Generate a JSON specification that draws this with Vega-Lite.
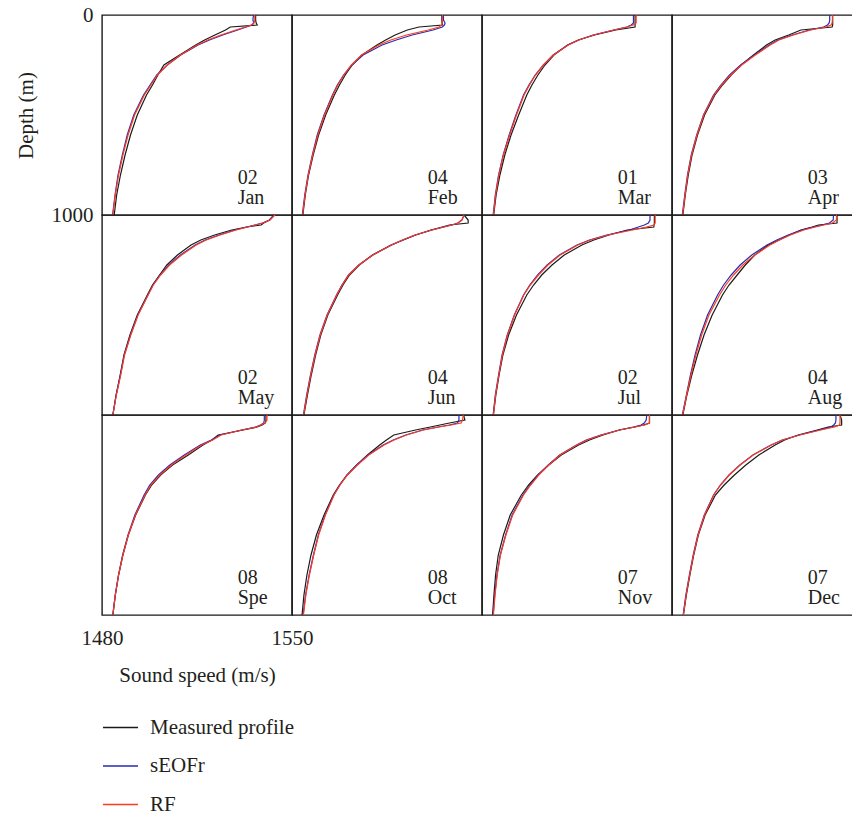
{
  "$schema": "https://vega.github.io/schema/vega-lite/v6.json",
  "background": "white",
  "padding": {"left": 14, "top": 3, "right": 0, "bottom": 0},
  "config": {
    "view": {"stroke": "#1a1a1a", "strokeWidth": 1.4},
    "font": "Liberation Serif"
  },
  "datasets": {
    "labels": [
      {"m": "Jan", "t": "02\nJan"}, {"m": "Feb", "t": "04\nFeb"}, {"m": "Mar", "t": "01\nMar"}, {"m": "Apr", "t": "03\nApr"},
      {"m": "May", "t": "02\nMay"}, {"m": "Jun", "t": "04\nJun"}, {"m": "Jul", "t": "02\nJul"}, {"m": "Aug", "t": "04\nAug"},
      {"m": "Spe", "t": "08\nSpe"}, {"m": "Oct", "t": "08\nOct"}, {"m": "Nov", "t": "07\nNov"}, {"m": "Dec", "t": "07\nDec"}
    ],
    "profiles": [
      {"m":"Jan","d":0,"Measured profile":1536.6,"sEOFr":1535.8,"RF":1536.3},
      {"m":"Jan","d":25,"Measured profile":1536.6,"sEOFr":1535.6,"RF":1536.3},
      {"m":"Jan","d":40,"Measured profile":1536.8,"sEOFr":1535.9,"RF":1536.0},
      {"m":"Jan","d":50,"Measured profile":1537.2,"sEOFr":1535.2,"RF":1535.0},
      {"m":"Jan","d":60,"Measured profile":1527.3,"sEOFr":1533.2,"RF":1532.8},
      {"m":"Jan","d":75,"Measured profile":1525.5,"sEOFr":1530.0,"RF":1529.3},
      {"m":"Jan","d":100,"Measured profile":1521.6,"sEOFr":1524.5,"RF":1523.8},
      {"m":"Jan","d":125,"Measured profile":1517.8,"sEOFr":1519.6,"RF":1519.0},
      {"m":"Jan","d":150,"Measured profile":1514.5,"sEOFr":1515.4,"RF":1515.0},
      {"m":"Jan","d":200,"Measured profile":1508.6,"sEOFr":1509.0,"RF":1508.9},
      {"m":"Jan","d":250,"Measured profile":1502.8,"sEOFr":1504.0,"RF":1504.1},
      {"m":"Jan","d":300,"Measured profile":1500.6,"sEOFr":1500.2,"RF":1500.4},
      {"m":"Jan","d":350,"Measured profile":1498.6,"sEOFr":1497.7,"RF":1498.0},
      {"m":"Jan","d":400,"Measured profile":1496.4,"sEOFr":1495.3,"RF":1495.6},
      {"m":"Jan","d":500,"Measured profile":1493.0,"sEOFr":1491.7,"RF":1492.0},
      {"m":"Jan","d":600,"Measured profile":1490.5,"sEOFr":1489.3,"RF":1489.6},
      {"m":"Jan","d":700,"Measured profile":1488.5,"sEOFr":1487.5,"RF":1487.7},
      {"m":"Jan","d":800,"Measured profile":1486.8,"sEOFr":1485.9,"RF":1486.1},
      {"m":"Jan","d":900,"Measured profile":1485.4,"sEOFr":1484.8,"RF":1484.9},
      {"m":"Jan","d":1000,"Measured profile":1484.5,"sEOFr":1483.9,"RF":1484.0},

      {"m":"Feb","d":0,"Measured profile":1535.2,"sEOFr":1535.8,"RF":1535.4},
      {"m":"Feb","d":25,"Measured profile":1535.2,"sEOFr":1535.8,"RF":1535.4},
      {"m":"Feb","d":40,"Measured profile":1535.3,"sEOFr":1536.4,"RF":1535.3},
      {"m":"Feb","d":50,"Measured profile":1535.5,"sEOFr":1536.2,"RF":1535.2},
      {"m":"Feb","d":60,"Measured profile":1526.8,"sEOFr":1535.4,"RF":1534.2},
      {"m":"Feb","d":75,"Measured profile":1522.5,"sEOFr":1532.0,"RF":1530.2},
      {"m":"Feb","d":100,"Measured profile":1518.0,"sEOFr":1524.3,"RF":1522.2},
      {"m":"Feb","d":125,"Measured profile":1514.5,"sEOFr":1518.4,"RF":1516.4},
      {"m":"Feb","d":150,"Measured profile":1511.3,"sEOFr":1513.2,"RF":1512.0},
      {"m":"Feb","d":200,"Measured profile":1505.8,"sEOFr":1506.2,"RF":1505.6},
      {"m":"Feb","d":250,"Measured profile":1502.2,"sEOFr":1502.0,"RF":1501.9},
      {"m":"Feb","d":300,"Measured profile":1499.6,"sEOFr":1499.0,"RF":1499.1},
      {"m":"Feb","d":350,"Measured profile":1497.5,"sEOFr":1496.7,"RF":1496.9},
      {"m":"Feb","d":400,"Measured profile":1495.6,"sEOFr":1494.9,"RF":1495.1},
      {"m":"Feb","d":500,"Measured profile":1492.4,"sEOFr":1491.8,"RF":1492.0},
      {"m":"Feb","d":600,"Measured profile":1489.8,"sEOFr":1489.3,"RF":1489.5},
      {"m":"Feb","d":700,"Measured profile":1487.8,"sEOFr":1487.5,"RF":1487.6},
      {"m":"Feb","d":800,"Measured profile":1486.1,"sEOFr":1485.9,"RF":1486.0},
      {"m":"Feb","d":900,"Measured profile":1484.9,"sEOFr":1484.7,"RF":1484.8},
      {"m":"Feb","d":1000,"Measured profile":1484.0,"sEOFr":1483.8,"RF":1483.9},

      {"m":"Mar","d":0,"Measured profile":1536.4,"sEOFr":1535.8,"RF":1536.8},
      {"m":"Mar","d":25,"Measured profile":1536.4,"sEOFr":1535.8,"RF":1536.8},
      {"m":"Mar","d":40,"Measured profile":1536.4,"sEOFr":1535.8,"RF":1536.8},
      {"m":"Mar","d":50,"Measured profile":1536.4,"sEOFr":1535.0,"RF":1535.7},
      {"m":"Mar","d":60,"Measured profile":1536.4,"sEOFr":1533.3,"RF":1533.5},
      {"m":"Mar","d":75,"Measured profile":1529.3,"sEOFr":1528.5,"RF":1528.6},
      {"m":"Mar","d":100,"Measured profile":1521.5,"sEOFr":1521.0,"RF":1521.1},
      {"m":"Mar","d":125,"Measured profile":1515.5,"sEOFr":1515.6,"RF":1515.7},
      {"m":"Mar","d":150,"Measured profile":1511.5,"sEOFr":1511.7,"RF":1511.8},
      {"m":"Mar","d":200,"Measured profile":1506.5,"sEOFr":1506.2,"RF":1506.3},
      {"m":"Mar","d":250,"Measured profile":1503.2,"sEOFr":1502.6,"RF":1502.7},
      {"m":"Mar","d":300,"Measured profile":1500.6,"sEOFr":1499.6,"RF":1499.7},
      {"m":"Mar","d":350,"Measured profile":1498.4,"sEOFr":1497.3,"RF":1497.5},
      {"m":"Mar","d":400,"Measured profile":1496.5,"sEOFr":1495.3,"RF":1495.5},
      {"m":"Mar","d":500,"Measured profile":1493.5,"sEOFr":1492.5,"RF":1492.7},
      {"m":"Mar","d":600,"Measured profile":1490.7,"sEOFr":1490.0,"RF":1490.2},
      {"m":"Mar","d":700,"Measured profile":1488.4,"sEOFr":1487.8,"RF":1487.9},
      {"m":"Mar","d":800,"Measured profile":1486.6,"sEOFr":1486.1,"RF":1486.2},
      {"m":"Mar","d":900,"Measured profile":1485.2,"sEOFr":1484.9,"RF":1485.0},
      {"m":"Mar","d":1000,"Measured profile":1484.3,"sEOFr":1484.1,"RF":1484.2},

      {"m":"Apr","d":0,"Measured profile":1539.2,"sEOFr":1538.1,"RF":1539.1},
      {"m":"Apr","d":25,"Measured profile":1539.2,"sEOFr":1538.1,"RF":1539.1},
      {"m":"Apr","d":40,"Measured profile":1539.2,"sEOFr":1537.9,"RF":1539.0},
      {"m":"Apr","d":50,"Measured profile":1539.2,"sEOFr":1537.3,"RF":1538.6},
      {"m":"Apr","d":60,"Measured profile":1539.0,"sEOFr":1535.8,"RF":1536.8},
      {"m":"Apr","d":75,"Measured profile":1527.5,"sEOFr":1530.6,"RF":1531.1},
      {"m":"Apr","d":100,"Measured profile":1523.0,"sEOFr":1524.3,"RF":1524.7},
      {"m":"Apr","d":125,"Measured profile":1518.0,"sEOFr":1519.0,"RF":1519.4},
      {"m":"Apr","d":150,"Measured profile":1514.8,"sEOFr":1515.8,"RF":1516.2},
      {"m":"Apr","d":200,"Measured profile":1510.0,"sEOFr":1510.3,"RF":1510.7},
      {"m":"Apr","d":250,"Measured profile":1505.5,"sEOFr":1505.3,"RF":1505.7},
      {"m":"Apr","d":300,"Measured profile":1501.8,"sEOFr":1501.2,"RF":1501.6},
      {"m":"Apr","d":350,"Measured profile":1498.6,"sEOFr":1498.0,"RF":1498.3},
      {"m":"Apr","d":400,"Measured profile":1495.8,"sEOFr":1495.3,"RF":1495.5},
      {"m":"Apr","d":500,"Measured profile":1492.0,"sEOFr":1491.6,"RF":1491.7},
      {"m":"Apr","d":600,"Measured profile":1489.4,"sEOFr":1489.1,"RF":1489.2},
      {"m":"Apr","d":700,"Measured profile":1487.4,"sEOFr":1487.1,"RF":1487.2},
      {"m":"Apr","d":800,"Measured profile":1486.0,"sEOFr":1485.7,"RF":1485.8},
      {"m":"Apr","d":900,"Measured profile":1484.9,"sEOFr":1484.7,"RF":1484.8},
      {"m":"Apr","d":1000,"Measured profile":1484.0,"sEOFr":1483.8,"RF":1483.9},

      {"m":"May","d":0,"Measured profile":1543.3,"sEOFr":1543.5,"RF":1543.7},
      {"m":"May","d":25,"Measured profile":1541.7,"sEOFr":1541.8,"RF":1541.9},
      {"m":"May","d":40,"Measured profile":1539.6,"sEOFr":1539.1,"RF":1539.3},
      {"m":"May","d":50,"Measured profile":1538.6,"sEOFr":1536.3,"RF":1536.5},
      {"m":"May","d":60,"Measured profile":1533.3,"sEOFr":1533.4,"RF":1533.7},
      {"m":"May","d":75,"Measured profile":1527.8,"sEOFr":1529.0,"RF":1529.4},
      {"m":"May","d":100,"Measured profile":1521.5,"sEOFr":1523.1,"RF":1523.5},
      {"m":"May","d":125,"Measured profile":1516.4,"sEOFr":1518.0,"RF":1518.4},
      {"m":"May","d":150,"Measured profile":1512.8,"sEOFr":1514.3,"RF":1514.7},
      {"m":"May","d":200,"Measured profile":1507.8,"sEOFr":1508.9,"RF":1509.3},
      {"m":"May","d":250,"Measured profile":1503.9,"sEOFr":1504.6,"RF":1504.9},
      {"m":"May","d":300,"Measured profile":1501.2,"sEOFr":1501.4,"RF":1501.6},
      {"m":"May","d":350,"Measured profile":1498.6,"sEOFr":1498.8,"RF":1498.9},
      {"m":"May","d":400,"Measured profile":1496.7,"sEOFr":1496.9,"RF":1497.0},
      {"m":"May","d":500,"Measured profile":1493.0,"sEOFr":1493.2,"RF":1493.3},
      {"m":"May","d":600,"Measured profile":1490.3,"sEOFr":1490.5,"RF":1490.6},
      {"m":"May","d":700,"Measured profile":1488.1,"sEOFr":1488.2,"RF":1488.3},
      {"m":"May","d":800,"Measured profile":1486.7,"sEOFr":1486.8,"RF":1486.9},
      {"m":"May","d":900,"Measured profile":1485.2,"sEOFr":1485.2,"RF":1485.3},
      {"m":"May","d":1000,"Measured profile":1484.0,"sEOFr":1484.0,"RF":1484.0},

      {"m":"Jun","d":0,"Measured profile":1543.4,"sEOFr":1543.4,"RF":1543.4},
      {"m":"Jun","d":25,"Measured profile":1544.9,"sEOFr":1542.6,"RF":1542.6},
      {"m":"Jun","d":40,"Measured profile":1544.9,"sEOFr":1541.1,"RF":1541.1},
      {"m":"Jun","d":50,"Measured profile":1538.0,"sEOFr":1538.9,"RF":1538.9},
      {"m":"Jun","d":60,"Measured profile":1535.3,"sEOFr":1536.0,"RF":1535.9},
      {"m":"Jun","d":75,"Measured profile":1531.2,"sEOFr":1531.6,"RF":1531.5},
      {"m":"Jun","d":100,"Measured profile":1525.6,"sEOFr":1525.4,"RF":1525.3},
      {"m":"Jun","d":125,"Measured profile":1521.0,"sEOFr":1520.8,"RF":1520.7},
      {"m":"Jun","d":150,"Measured profile":1516.5,"sEOFr":1516.7,"RF":1516.6},
      {"m":"Jun","d":200,"Measured profile":1509.6,"sEOFr":1509.8,"RF":1509.8},
      {"m":"Jun","d":250,"Measured profile":1504.8,"sEOFr":1504.6,"RF":1504.6},
      {"m":"Jun","d":300,"Measured profile":1501.2,"sEOFr":1500.8,"RF":1500.9},
      {"m":"Jun","d":350,"Measured profile":1498.8,"sEOFr":1498.4,"RF":1498.5},
      {"m":"Jun","d":400,"Measured profile":1496.8,"sEOFr":1496.4,"RF":1496.5},
      {"m":"Jun","d":500,"Measured profile":1493.2,"sEOFr":1492.9,"RF":1493.0},
      {"m":"Jun","d":600,"Measured profile":1490.6,"sEOFr":1490.3,"RF":1490.4},
      {"m":"Jun","d":700,"Measured profile":1488.7,"sEOFr":1488.4,"RF":1488.5},
      {"m":"Jun","d":800,"Measured profile":1487.1,"sEOFr":1486.8,"RF":1486.9},
      {"m":"Jun","d":900,"Measured profile":1485.7,"sEOFr":1485.4,"RF":1485.5},
      {"m":"Jun","d":1000,"Measured profile":1484.4,"sEOFr":1484.2,"RF":1484.3},

      {"m":"Jul","d":0,"Measured profile":1543.5,"sEOFr":1541.9,"RF":1543.8},
      {"m":"Jul","d":25,"Measured profile":1543.5,"sEOFr":1541.9,"RF":1543.8},
      {"m":"Jul","d":40,"Measured profile":1543.5,"sEOFr":1541.3,"RF":1543.8},
      {"m":"Jul","d":50,"Measured profile":1543.4,"sEOFr":1539.8,"RF":1543.3},
      {"m":"Jul","d":60,"Measured profile":1543.3,"sEOFr":1537.6,"RF":1540.6},
      {"m":"Jul","d":75,"Measured profile":1533.5,"sEOFr":1534.3,"RF":1535.5},
      {"m":"Jul","d":100,"Measured profile":1526.8,"sEOFr":1526.0,"RF":1526.4},
      {"m":"Jul","d":125,"Measured profile":1521.2,"sEOFr":1519.6,"RF":1519.9},
      {"m":"Jul","d":150,"Measured profile":1516.8,"sEOFr":1515.0,"RF":1515.3},
      {"m":"Jul","d":200,"Measured profile":1510.3,"sEOFr":1508.5,"RF":1508.8},
      {"m":"Jul","d":250,"Measured profile":1505.8,"sEOFr":1504.0,"RF":1504.3},
      {"m":"Jul","d":300,"Measured profile":1502.0,"sEOFr":1500.5,"RF":1500.8},
      {"m":"Jul","d":350,"Measured profile":1499.0,"sEOFr":1497.6,"RF":1497.8},
      {"m":"Jul","d":400,"Measured profile":1496.5,"sEOFr":1495.3,"RF":1495.4},
      {"m":"Jul","d":500,"Measured profile":1492.7,"sEOFr":1491.9,"RF":1492.0},
      {"m":"Jul","d":600,"Measured profile":1489.8,"sEOFr":1489.3,"RF":1489.4},
      {"m":"Jul","d":700,"Measured profile":1487.7,"sEOFr":1487.4,"RF":1487.5},
      {"m":"Jul","d":800,"Measured profile":1486.3,"sEOFr":1486.1,"RF":1486.2},
      {"m":"Jul","d":900,"Measured profile":1485.1,"sEOFr":1484.9,"RF":1485.0},
      {"m":"Jul","d":1000,"Measured profile":1484.2,"sEOFr":1484.1,"RF":1484.2},

      {"m":"Aug","d":0,"Measured profile":1540.8,"sEOFr":1539.5,"RF":1540.6},
      {"m":"Aug","d":25,"Measured profile":1540.8,"sEOFr":1539.4,"RF":1540.6},
      {"m":"Aug","d":40,"Measured profile":1540.8,"sEOFr":1538.0,"RF":1539.1},
      {"m":"Aug","d":50,"Measured profile":1534.0,"sEOFr":1535.4,"RF":1536.0},
      {"m":"Aug","d":60,"Measured profile":1531.6,"sEOFr":1532.2,"RF":1532.8},
      {"m":"Aug","d":75,"Measured profile":1527.5,"sEOFr":1527.8,"RF":1528.6},
      {"m":"Aug","d":100,"Measured profile":1523.2,"sEOFr":1522.8,"RF":1523.6},
      {"m":"Aug","d":125,"Measured profile":1519.5,"sEOFr":1518.6,"RF":1519.6},
      {"m":"Aug","d":150,"Measured profile":1515.5,"sEOFr":1515.0,"RF":1516.1},
      {"m":"Aug","d":200,"Measured profile":1510.5,"sEOFr":1509.4,"RF":1510.5},
      {"m":"Aug","d":250,"Measured profile":1507.0,"sEOFr":1505.1,"RF":1506.1},
      {"m":"Aug","d":300,"Measured profile":1504.0,"sEOFr":1501.8,"RF":1502.7},
      {"m":"Aug","d":350,"Measured profile":1501.0,"sEOFr":1499.0,"RF":1499.8},
      {"m":"Aug","d":400,"Measured profile":1498.6,"sEOFr":1496.8,"RF":1497.5},
      {"m":"Aug","d":500,"Measured profile":1494.8,"sEOFr":1493.1,"RF":1493.6},
      {"m":"Aug","d":600,"Measured profile":1491.8,"sEOFr":1490.5,"RF":1490.9},
      {"m":"Aug","d":700,"Measured profile":1489.4,"sEOFr":1488.5,"RF":1488.8},
      {"m":"Aug","d":800,"Measured profile":1487.3,"sEOFr":1486.8,"RF":1487.0},
      {"m":"Aug","d":900,"Measured profile":1485.5,"sEOFr":1485.3,"RF":1485.4},
      {"m":"Aug","d":1000,"Measured profile":1484.0,"sEOFr":1483.8,"RF":1483.9},

      {"m":"Spe","d":0,"Measured profile":1540.4,"sEOFr":1539.8,"RF":1540.8},
      {"m":"Spe","d":25,"Measured profile":1540.4,"sEOFr":1539.8,"RF":1540.8},
      {"m":"Spe","d":40,"Measured profile":1540.2,"sEOFr":1539.6,"RF":1540.0},
      {"m":"Spe","d":50,"Measured profile":1539.0,"sEOFr":1538.4,"RF":1538.5},
      {"m":"Spe","d":60,"Measured profile":1537.2,"sEOFr":1536.6,"RF":1536.8},
      {"m":"Spe","d":75,"Measured profile":1532.0,"sEOFr":1531.4,"RF":1531.6},
      {"m":"Spe","d":100,"Measured profile":1522.8,"sEOFr":1523.5,"RF":1523.9},
      {"m":"Spe","d":125,"Measured profile":1520.5,"sEOFr":1520.3,"RF":1520.8},
      {"m":"Spe","d":150,"Measured profile":1517.2,"sEOFr":1516.2,"RF":1516.7},
      {"m":"Spe","d":200,"Measured profile":1511.8,"sEOFr":1510.3,"RF":1510.9},
      {"m":"Spe","d":250,"Measured profile":1506.0,"sEOFr":1505.0,"RF":1505.6},
      {"m":"Spe","d":300,"Measured profile":1501.6,"sEOFr":1500.8,"RF":1501.3},
      {"m":"Spe","d":350,"Measured profile":1498.3,"sEOFr":1497.6,"RF":1498.0},
      {"m":"Spe","d":400,"Measured profile":1496.0,"sEOFr":1495.5,"RF":1495.9},
      {"m":"Spe","d":500,"Measured profile":1492.4,"sEOFr":1492.1,"RF":1492.3},
      {"m":"Spe","d":600,"Measured profile":1489.7,"sEOFr":1489.6,"RF":1489.7},
      {"m":"Spe","d":700,"Measured profile":1487.7,"sEOFr":1487.6,"RF":1487.7},
      {"m":"Spe","d":800,"Measured profile":1486.1,"sEOFr":1486.1,"RF":1486.1},
      {"m":"Spe","d":900,"Measured profile":1484.9,"sEOFr":1484.9,"RF":1484.9},
      {"m":"Spe","d":1000,"Measured profile":1484.0,"sEOFr":1484.0,"RF":1484.0},

      {"m":"Oct","d":0,"Measured profile":1543.2,"sEOFr":1541.5,"RF":1543.1},
      {"m":"Oct","d":25,"Measured profile":1543.7,"sEOFr":1541.5,"RF":1542.8},
      {"m":"Oct","d":40,"Measured profile":1538.0,"sEOFr":1541.0,"RF":1542.3},
      {"m":"Oct","d":50,"Measured profile":1534.5,"sEOFr":1538.0,"RF":1538.6},
      {"m":"Oct","d":60,"Measured profile":1531.0,"sEOFr":1533.8,"RF":1534.1},
      {"m":"Oct","d":75,"Measured profile":1525.5,"sEOFr":1528.1,"RF":1528.4},
      {"m":"Oct","d":100,"Measured profile":1517.5,"sEOFr":1521.9,"RF":1522.2},
      {"m":"Oct","d":125,"Measured profile":1514.8,"sEOFr":1517.3,"RF":1517.6},
      {"m":"Oct","d":150,"Measured profile":1512.3,"sEOFr":1513.6,"RF":1513.9},
      {"m":"Oct","d":200,"Measured profile":1507.8,"sEOFr":1508.0,"RF":1508.3},
      {"m":"Oct","d":250,"Measured profile":1503.9,"sEOFr":1503.8,"RF":1504.1},
      {"m":"Oct","d":300,"Measured profile":1500.3,"sEOFr":1500.3,"RF":1500.4},
      {"m":"Oct","d":350,"Measured profile":1497.5,"sEOFr":1497.6,"RF":1497.7},
      {"m":"Oct","d":400,"Measured profile":1495.2,"sEOFr":1495.4,"RF":1495.5},
      {"m":"Oct","d":500,"Measured profile":1491.8,"sEOFr":1492.2,"RF":1492.3},
      {"m":"Oct","d":600,"Measured profile":1489.0,"sEOFr":1489.7,"RF":1489.8},
      {"m":"Oct","d":700,"Measured profile":1487.0,"sEOFr":1487.9,"RF":1488.0},
      {"m":"Oct","d":800,"Measured profile":1485.5,"sEOFr":1486.3,"RF":1486.4},
      {"m":"Oct","d":900,"Measured profile":1484.4,"sEOFr":1485.0,"RF":1485.1},
      {"m":"Oct","d":1000,"Measured profile":1483.7,"sEOFr":1484.1,"RF":1484.2},

      {"m":"Nov","d":0,"Measured profile":1541.7,"sEOFr":1540.7,"RF":1541.7},
      {"m":"Nov","d":25,"Measured profile":1541.7,"sEOFr":1540.5,"RF":1541.7},
      {"m":"Nov","d":40,"Measured profile":1541.7,"sEOFr":1539.8,"RF":1541.7},
      {"m":"Nov","d":50,"Measured profile":1539.5,"sEOFr":1538.6,"RF":1540.0},
      {"m":"Nov","d":60,"Measured profile":1536.3,"sEOFr":1535.8,"RF":1536.3},
      {"m":"Nov","d":75,"Measured profile":1530.6,"sEOFr":1530.6,"RF":1530.8},
      {"m":"Nov","d":100,"Measured profile":1524.6,"sEOFr":1523.8,"RF":1524.0},
      {"m":"Nov","d":125,"Measured profile":1519.6,"sEOFr":1518.4,"RF":1518.6},
      {"m":"Nov","d":150,"Measured profile":1515.6,"sEOFr":1514.8,"RF":1515.0},
      {"m":"Nov","d":200,"Measured profile":1509.2,"sEOFr":1508.6,"RF":1508.8},
      {"m":"Nov","d":250,"Measured profile":1504.6,"sEOFr":1504.4,"RF":1504.6},
      {"m":"Nov","d":300,"Measured profile":1500.5,"sEOFr":1500.7,"RF":1500.9},
      {"m":"Nov","d":350,"Measured profile":1497.2,"sEOFr":1497.7,"RF":1497.9},
      {"m":"Nov","d":400,"Measured profile":1494.5,"sEOFr":1495.1,"RF":1495.3},
      {"m":"Nov","d":500,"Measured profile":1490.4,"sEOFr":1491.1,"RF":1491.3},
      {"m":"Nov","d":600,"Measured profile":1487.9,"sEOFr":1488.7,"RF":1488.8},
      {"m":"Nov","d":700,"Measured profile":1486.0,"sEOFr":1486.7,"RF":1486.8},
      {"m":"Nov","d":800,"Measured profile":1485.0,"sEOFr":1485.5,"RF":1485.6},
      {"m":"Nov","d":900,"Measured profile":1484.4,"sEOFr":1484.7,"RF":1484.8},
      {"m":"Nov","d":1000,"Measured profile":1483.9,"sEOFr":1484.1,"RF":1484.2},

      {"m":"Dec","d":0,"Measured profile":1541.9,"sEOFr":1540.4,"RF":1541.9},
      {"m":"Dec","d":25,"Measured profile":1542.5,"sEOFr":1540.4,"RF":1541.9},
      {"m":"Dec","d":40,"Measured profile":1542.5,"sEOFr":1540.2,"RF":1541.9},
      {"m":"Dec","d":50,"Measured profile":1542.5,"sEOFr":1539.6,"RF":1541.7},
      {"m":"Dec","d":60,"Measured profile":1537.5,"sEOFr":1538.5,"RF":1539.9},
      {"m":"Dec","d":75,"Measured profile":1533.5,"sEOFr":1534.3,"RF":1534.8},
      {"m":"Dec","d":100,"Measured profile":1526.5,"sEOFr":1526.9,"RF":1527.1},
      {"m":"Dec","d":125,"Measured profile":1521.5,"sEOFr":1520.6,"RF":1520.7},
      {"m":"Dec","d":150,"Measured profile":1518.0,"sEOFr":1516.5,"RF":1516.6},
      {"m":"Dec","d":200,"Measured profile":1512.0,"sEOFr":1509.8,"RF":1509.9},
      {"m":"Dec","d":250,"Measured profile":1507.2,"sEOFr":1505.0,"RF":1505.1},
      {"m":"Dec","d":300,"Measured profile":1503.0,"sEOFr":1501.0,"RF":1501.1},
      {"m":"Dec","d":350,"Measured profile":1499.2,"sEOFr":1497.8,"RF":1497.9},
      {"m":"Dec","d":400,"Measured profile":1496.0,"sEOFr":1495.3,"RF":1495.4},
      {"m":"Dec","d":500,"Measured profile":1492.2,"sEOFr":1491.9,"RF":1492.0},
      {"m":"Dec","d":600,"Measured profile":1489.7,"sEOFr":1489.5,"RF":1489.6},
      {"m":"Dec","d":700,"Measured profile":1488.0,"sEOFr":1487.8,"RF":1487.9},
      {"m":"Dec","d":800,"Measured profile":1486.6,"sEOFr":1486.4,"RF":1486.5},
      {"m":"Dec","d":900,"Measured profile":1485.3,"sEOFr":1485.1,"RF":1485.2},
      {"m":"Dec","d":1000,"Measured profile":1484.2,"sEOFr":1484.1,"RF":1484.2}
    ]
  },
  "data": {"name": "profiles"},
  "columns": 4,
  "spacing": 0,
  "bounds": "flush",
  "align": "all",
  "concat": [
    {"width":190,"height":200,"layer":[
      {"transform":[{"filter":"datum.m==='Jan'"},{"fold":["Measured profile","sEOFr","RF"],"as":["s","v"]}],
       "mark":{"type":"line","strokeWidth":1.2},
       "encoding":{
         "x":{"field":"v","type":"quantitative","scale":{"domain":[1480,1550],"nice":false,"zero":false},"axis":null},
         "y":{"field":"d","type":"quantitative","scale":{"domain":[0,1000],"reverse":true,"nice":false,"zero":false},
              "axis":{"values":[0,1000],"format":"d","ticks":false,"domain":false,"grid":false,"labelFont":"Liberation Serif","labelFontSize":21,"labelColor":"#231f20","labelPadding":9,"title":"Depth (m)","titleFont":"Liberation Serif","titleFontSize":21,"titleFontWeight":"normal","titleColor":"#231f20","titlePadding":15}},
         "color":{"field":"s","type":"nominal","scale":{"domain":["Measured profile","sEOFr","RF"],"range":["#1a1a1a","#2a2ab4","#ff3b1f"]},
              "legend":{"orient":"none","legendX":0,"legendY":694,"title":null,"direction":"vertical","symbolType":"stroke","symbolSize":1225,"symbolStrokeWidth":1.3,"labelFont":"Liberation Serif","labelFontSize":21,"labelColor":"#231f20","labelOffset":11,"rowPadding":9.5}},
         "order":{"field":"d","type":"quantitative"}}},
      {"data":{"name":"labels"},"transform":[{"filter":"datum.m==='Jan'"}],
       "mark":{"type":"text","align":"left","baseline":"alphabetic","font":"Liberation Serif","fontSize":20,"lineBreak":"\n","lineHeight":20,"color":"#231f20"},
       "encoding":{"x":{"datum":1530,"type":"quantitative"},"y":{"datum":845,"type":"quantitative"},"text":{"field":"t"}}}
    ]},
    {"width":190,"height":200,"layer":[
      {"transform":[{"filter":"datum.m==='Feb'"},{"fold":["Measured profile","sEOFr","RF"],"as":["s","v"]}],
       "mark":{"type":"line","strokeWidth":1.2},
       "encoding":{
         "x":{"field":"v","type":"quantitative","scale":{"domain":[1480,1550],"nice":false,"zero":false},"axis":null},
         "y":{"field":"d","type":"quantitative","scale":{"domain":[0,1000],"reverse":true,"nice":false,"zero":false},"axis":null},
         "color":{"field":"s","type":"nominal","scale":{"domain":["Measured profile","sEOFr","RF"],"range":["#1a1a1a","#2a2ab4","#ff3b1f"]}},
         "order":{"field":"d","type":"quantitative"}}},
      {"data":{"name":"labels"},"transform":[{"filter":"datum.m==='Feb'"}],
       "mark":{"type":"text","align":"left","baseline":"alphabetic","font":"Liberation Serif","fontSize":20,"lineBreak":"\n","lineHeight":20,"color":"#231f20"},
       "encoding":{"x":{"datum":1530,"type":"quantitative"},"y":{"datum":845,"type":"quantitative"},"text":{"field":"t"}}}
    ]},
    {"width":190,"height":200,"layer":[
      {"transform":[{"filter":"datum.m==='Mar'"},{"fold":["Measured profile","sEOFr","RF"],"as":["s","v"]}],
       "mark":{"type":"line","strokeWidth":1.2},
       "encoding":{
         "x":{"field":"v","type":"quantitative","scale":{"domain":[1480,1550],"nice":false,"zero":false},"axis":null},
         "y":{"field":"d","type":"quantitative","scale":{"domain":[0,1000],"reverse":true,"nice":false,"zero":false},"axis":null},
         "color":{"field":"s","type":"nominal","scale":{"domain":["Measured profile","sEOFr","RF"],"range":["#1a1a1a","#2a2ab4","#ff3b1f"]}},
         "order":{"field":"d","type":"quantitative"}}},
      {"data":{"name":"labels"},"transform":[{"filter":"datum.m==='Mar'"}],
       "mark":{"type":"text","align":"left","baseline":"alphabetic","font":"Liberation Serif","fontSize":20,"lineBreak":"\n","lineHeight":20,"color":"#231f20"},
       "encoding":{"x":{"datum":1530,"type":"quantitative"},"y":{"datum":845,"type":"quantitative"},"text":{"field":"t"}}}
    ]},
    {"width":190,"height":200,"layer":[
      {"transform":[{"filter":"datum.m==='Apr'"},{"fold":["Measured profile","sEOFr","RF"],"as":["s","v"]}],
       "mark":{"type":"line","strokeWidth":1.2},
       "encoding":{
         "x":{"field":"v","type":"quantitative","scale":{"domain":[1480,1550],"nice":false,"zero":false},"axis":null},
         "y":{"field":"d","type":"quantitative","scale":{"domain":[0,1000],"reverse":true,"nice":false,"zero":false},"axis":null},
         "color":{"field":"s","type":"nominal","scale":{"domain":["Measured profile","sEOFr","RF"],"range":["#1a1a1a","#2a2ab4","#ff3b1f"]}},
         "order":{"field":"d","type":"quantitative"}}},
      {"data":{"name":"labels"},"transform":[{"filter":"datum.m==='Apr'"}],
       "mark":{"type":"text","align":"left","baseline":"alphabetic","font":"Liberation Serif","fontSize":20,"lineBreak":"\n","lineHeight":20,"color":"#231f20"},
       "encoding":{"x":{"datum":1530,"type":"quantitative"},"y":{"datum":845,"type":"quantitative"},"text":{"field":"t"}}}
    ]},
    {"width":190,"height":200,"layer":[
      {"transform":[{"filter":"datum.m==='May'"},{"fold":["Measured profile","sEOFr","RF"],"as":["s","v"]}],
       "mark":{"type":"line","strokeWidth":1.2},
       "encoding":{
         "x":{"field":"v","type":"quantitative","scale":{"domain":[1480,1550],"nice":false,"zero":false},"axis":null},
         "y":{"field":"d","type":"quantitative","scale":{"domain":[0,1000],"reverse":true,"nice":false,"zero":false},"axis":null},
         "color":{"field":"s","type":"nominal","scale":{"domain":["Measured profile","sEOFr","RF"],"range":["#1a1a1a","#2a2ab4","#ff3b1f"]}},
         "order":{"field":"d","type":"quantitative"}}},
      {"data":{"name":"labels"},"transform":[{"filter":"datum.m==='May'"}],
       "mark":{"type":"text","align":"left","baseline":"alphabetic","font":"Liberation Serif","fontSize":20,"lineBreak":"\n","lineHeight":20,"color":"#231f20"},
       "encoding":{"x":{"datum":1530,"type":"quantitative"},"y":{"datum":845,"type":"quantitative"},"text":{"field":"t"}}}
    ]},
    {"width":190,"height":200,"layer":[
      {"transform":[{"filter":"datum.m==='Jun'"},{"fold":["Measured profile","sEOFr","RF"],"as":["s","v"]}],
       "mark":{"type":"line","strokeWidth":1.2},
       "encoding":{
         "x":{"field":"v","type":"quantitative","scale":{"domain":[1480,1550],"nice":false,"zero":false},"axis":null},
         "y":{"field":"d","type":"quantitative","scale":{"domain":[0,1000],"reverse":true,"nice":false,"zero":false},"axis":null},
         "color":{"field":"s","type":"nominal","scale":{"domain":["Measured profile","sEOFr","RF"],"range":["#1a1a1a","#2a2ab4","#ff3b1f"]}},
         "order":{"field":"d","type":"quantitative"}}},
      {"data":{"name":"labels"},"transform":[{"filter":"datum.m==='Jun'"}],
       "mark":{"type":"text","align":"left","baseline":"alphabetic","font":"Liberation Serif","fontSize":20,"lineBreak":"\n","lineHeight":20,"color":"#231f20"},
       "encoding":{"x":{"datum":1530,"type":"quantitative"},"y":{"datum":845,"type":"quantitative"},"text":{"field":"t"}}}
    ]},
    {"width":190,"height":200,"layer":[
      {"transform":[{"filter":"datum.m==='Jul'"},{"fold":["Measured profile","sEOFr","RF"],"as":["s","v"]}],
       "mark":{"type":"line","strokeWidth":1.2},
       "encoding":{
         "x":{"field":"v","type":"quantitative","scale":{"domain":[1480,1550],"nice":false,"zero":false},"axis":null},
         "y":{"field":"d","type":"quantitative","scale":{"domain":[0,1000],"reverse":true,"nice":false,"zero":false},"axis":null},
         "color":{"field":"s","type":"nominal","scale":{"domain":["Measured profile","sEOFr","RF"],"range":["#1a1a1a","#2a2ab4","#ff3b1f"]}},
         "order":{"field":"d","type":"quantitative"}}},
      {"data":{"name":"labels"},"transform":[{"filter":"datum.m==='Jul'"}],
       "mark":{"type":"text","align":"left","baseline":"alphabetic","font":"Liberation Serif","fontSize":20,"lineBreak":"\n","lineHeight":20,"color":"#231f20"},
       "encoding":{"x":{"datum":1530,"type":"quantitative"},"y":{"datum":845,"type":"quantitative"},"text":{"field":"t"}}}
    ]},
    {"width":190,"height":200,"layer":[
      {"transform":[{"filter":"datum.m==='Aug'"},{"fold":["Measured profile","sEOFr","RF"],"as":["s","v"]}],
       "mark":{"type":"line","strokeWidth":1.2},
       "encoding":{
         "x":{"field":"v","type":"quantitative","scale":{"domain":[1480,1550],"nice":false,"zero":false},"axis":null},
         "y":{"field":"d","type":"quantitative","scale":{"domain":[0,1000],"reverse":true,"nice":false,"zero":false},"axis":null},
         "color":{"field":"s","type":"nominal","scale":{"domain":["Measured profile","sEOFr","RF"],"range":["#1a1a1a","#2a2ab4","#ff3b1f"]}},
         "order":{"field":"d","type":"quantitative"}}},
      {"data":{"name":"labels"},"transform":[{"filter":"datum.m==='Aug'"}],
       "mark":{"type":"text","align":"left","baseline":"alphabetic","font":"Liberation Serif","fontSize":20,"lineBreak":"\n","lineHeight":20,"color":"#231f20"},
       "encoding":{"x":{"datum":1530,"type":"quantitative"},"y":{"datum":845,"type":"quantitative"},"text":{"field":"t"}}}
    ]},
    {"width":190,"height":200,"layer":[
      {"transform":[{"filter":"datum.m==='Spe'"},{"fold":["Measured profile","sEOFr","RF"],"as":["s","v"]}],
       "mark":{"type":"line","strokeWidth":1.2},
       "encoding":{
         "x":{"field":"v","type":"quantitative","scale":{"domain":[1480,1550],"nice":false,"zero":false},
              "axis":{"values":[1480,1550],"format":"d","ticks":false,"domain":false,"grid":false,"labelFlush":false,"labelFont":"Liberation Serif","labelFontSize":21,"labelColor":"#231f20","labelPadding":12,"title":"Sound speed (m/s)","titleFont":"Liberation Serif","titleFontSize":21,"titleFontWeight":"normal","titleColor":"#231f20","titlePadding":16}},
         "y":{"field":"d","type":"quantitative","scale":{"domain":[0,1000],"reverse":true,"nice":false,"zero":false},"axis":null},
         "color":{"field":"s","type":"nominal","scale":{"domain":["Measured profile","sEOFr","RF"],"range":["#1a1a1a","#2a2ab4","#ff3b1f"]}},
         "order":{"field":"d","type":"quantitative"}}},
      {"data":{"name":"labels"},"transform":[{"filter":"datum.m==='Spe'"}],
       "mark":{"type":"text","align":"left","baseline":"alphabetic","font":"Liberation Serif","fontSize":20,"lineBreak":"\n","lineHeight":20,"color":"#231f20"},
       "encoding":{"x":{"datum":1530,"type":"quantitative"},"y":{"datum":845,"type":"quantitative"},"text":{"field":"t"}}}
    ]},
    {"width":190,"height":200,"layer":[
      {"transform":[{"filter":"datum.m==='Oct'"},{"fold":["Measured profile","sEOFr","RF"],"as":["s","v"]}],
       "mark":{"type":"line","strokeWidth":1.2},
       "encoding":{
         "x":{"field":"v","type":"quantitative","scale":{"domain":[1480,1550],"nice":false,"zero":false},"axis":null},
         "y":{"field":"d","type":"quantitative","scale":{"domain":[0,1000],"reverse":true,"nice":false,"zero":false},"axis":null},
         "color":{"field":"s","type":"nominal","scale":{"domain":["Measured profile","sEOFr","RF"],"range":["#1a1a1a","#2a2ab4","#ff3b1f"]}},
         "order":{"field":"d","type":"quantitative"}}},
      {"data":{"name":"labels"},"transform":[{"filter":"datum.m==='Oct'"}],
       "mark":{"type":"text","align":"left","baseline":"alphabetic","font":"Liberation Serif","fontSize":20,"lineBreak":"\n","lineHeight":20,"color":"#231f20"},
       "encoding":{"x":{"datum":1530,"type":"quantitative"},"y":{"datum":845,"type":"quantitative"},"text":{"field":"t"}}}
    ]},
    {"width":190,"height":200,"layer":[
      {"transform":[{"filter":"datum.m==='Nov'"},{"fold":["Measured profile","sEOFr","RF"],"as":["s","v"]}],
       "mark":{"type":"line","strokeWidth":1.2},
       "encoding":{
         "x":{"field":"v","type":"quantitative","scale":{"domain":[1480,1550],"nice":false,"zero":false},"axis":null},
         "y":{"field":"d","type":"quantitative","scale":{"domain":[0,1000],"reverse":true,"nice":false,"zero":false},"axis":null},
         "color":{"field":"s","type":"nominal","scale":{"domain":["Measured profile","sEOFr","RF"],"range":["#1a1a1a","#2a2ab4","#ff3b1f"]}},
         "order":{"field":"d","type":"quantitative"}}},
      {"data":{"name":"labels"},"transform":[{"filter":"datum.m==='Nov'"}],
       "mark":{"type":"text","align":"left","baseline":"alphabetic","font":"Liberation Serif","fontSize":20,"lineBreak":"\n","lineHeight":20,"color":"#231f20"},
       "encoding":{"x":{"datum":1530,"type":"quantitative"},"y":{"datum":845,"type":"quantitative"},"text":{"field":"t"}}}
    ]},
    {"width":190,"height":200,"layer":[
      {"transform":[{"filter":"datum.m==='Dec'"},{"fold":["Measured profile","sEOFr","RF"],"as":["s","v"]}],
       "mark":{"type":"line","strokeWidth":1.2},
       "encoding":{
         "x":{"field":"v","type":"quantitative","scale":{"domain":[1480,1550],"nice":false,"zero":false},"axis":null},
         "y":{"field":"d","type":"quantitative","scale":{"domain":[0,1000],"reverse":true,"nice":false,"zero":false},"axis":null},
         "color":{"field":"s","type":"nominal","scale":{"domain":["Measured profile","sEOFr","RF"],"range":["#1a1a1a","#2a2ab4","#ff3b1f"]}},
         "order":{"field":"d","type":"quantitative"}}},
      {"data":{"name":"labels"},"transform":[{"filter":"datum.m==='Dec'"}],
       "mark":{"type":"text","align":"left","baseline":"alphabetic","font":"Liberation Serif","fontSize":20,"lineBreak":"\n","lineHeight":20,"color":"#231f20"},
       "encoding":{"x":{"datum":1530,"type":"quantitative"},"y":{"datum":845,"type":"quantitative"},"text":{"field":"t"}}}
    ]}
  ]
}
